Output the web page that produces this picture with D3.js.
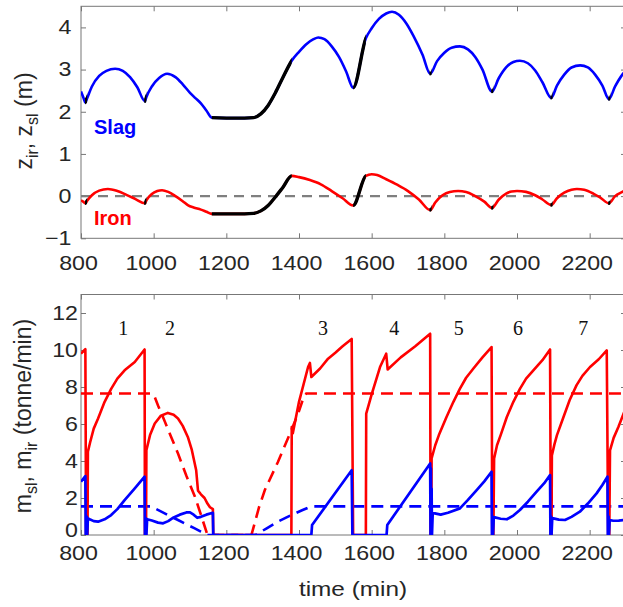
<!DOCTYPE html>
<html><head><meta charset="utf-8">
<script src="https://cdn.jsdelivr.net/npm/d3@7"></script>
<style>body{margin:0;background:#fff;} svg{display:block;}</style>
</head><body><svg id="c" width="623" height="607"></svg>
<script>
// ---------- data ----------
const xTicks = [800, 1000, 1200, 1400, 1600, 1800, 2000, 2200];
const zTicks = [-1, 0, 1, 2, 3, 4];
const mTicks = [0, 2, 4, 6, 8, 10, 12];

// top panel: melt levels (m)
const slagLevel = [[800,2.48],[806,2.35],[812,2.22],[816,2.3],[830,2.6],[850,2.85],[870,2.97],[894,3.02],[915,2.97],[935,2.82],[955,2.58],[976,2.25],[980,2.35],[995,2.6],[1015,2.8],[1037,2.9],[1060,2.82],[1080,2.65],[1100,2.45],[1114,2.33],[1130,2.2],[1145,2.03],[1160,1.86],[1200,1.85],[1250,1.85],[1275,1.86],[1295,1.95],[1315,2.15],[1335,2.45],[1355,2.8],[1380,3.21],[1400,3.42],[1420,3.6],[1440,3.72],[1453,3.76],[1470,3.72],[1490,3.55],[1510,3.3],[1530,2.95],[1549,2.57],[1584,3.74],[1600,3.98],[1620,4.2],[1640,4.33],[1656,4.37],[1675,4.3],[1695,4.1],[1715,3.8],[1740,3.35],[1761,2.9],[1780,3.2],[1800,3.4],[1820,3.52],[1843,3.55],[1865,3.48],[1885,3.3],[1905,3.0],[1931,2.48],[1950,2.8],[1970,3.05],[1990,3.18],[2008,3.21],[2030,3.15],[2050,2.98],[2070,2.7],[2094,2.33],[2110,2.62],[2130,2.88],[2150,3.05],[2174,3.1],[2195,3.05],[2215,2.88],[2235,2.62],[2253,2.3],[2270,2.6],[2290,2.88],[2300,2.98]];
const ironLevel = [[800,-0.1],[806,-0.13],[812,-0.17],[816,-0.12],[830,0.02],[850,0.13],[874,0.17],[900,0.12],[925,0.03],[950,-0.07],[976,-0.17],[980,-0.1],[995,0.05],[1010,0.12],[1023,0.14],[1040,0.1],[1060,0.0],[1080,-0.12],[1095,-0.22],[1110,-0.27],[1130,-0.32],[1145,-0.37],[1160,-0.42],[1200,-0.42],[1250,-0.42],[1275,-0.41],[1295,-0.35],[1315,-0.22],[1335,-0.02],[1355,0.2],[1380,0.48],[1400,0.45],[1430,0.38],[1460,0.28],[1490,0.12],[1520,-0.05],[1549,-0.22],[1584,0.48],[1600,0.52],[1615,0.5],[1640,0.4],[1670,0.27],[1700,0.12],[1730,-0.08],[1761,-0.33],[1775,-0.15],[1795,0.02],[1815,0.1],[1838,0.12],[1860,0.1],[1885,0.0],[1910,-0.13],[1931,-0.28],[1950,-0.08],[1970,0.06],[1985,0.11],[2000,0.12],[2025,0.1],[2050,0.02],[2070,-0.08],[2094,-0.21],[2110,-0.05],[2130,0.08],[2150,0.15],[2165,0.17],[2185,0.15],[2210,0.06],[2230,-0.04],[2253,-0.17],[2270,0.0],[2290,0.1],[2300,0.15]];
// periods drawn in black (tap hole closed)
const blackIntervals = [[811,817],[974,980],[1160,1380],[1549,1584],[1759,1765],[1929,1935],[2092,2098],[2251,2257]];

// bottom panel: tapping rates (tonne/min)
const ironFlow = [[800,9.8],[812,10.05],[814,0],[818,0],[819,4.5],[825,5.0],[835,5.75],[847,6.3],[865,7.2],[883,7.9],[900,8.45],[920,8.9],[948,9.35],[975,10.03],[976,0],[979,0],[980,4.58],[990,5.4],[1003,6.03],[1020,6.45],[1039,6.6],[1055,6.5],[1067,6.3],[1080,5.9],[1094,5.3],[1105,4.6],[1117,3.5],[1122,2.4],[1130,2.2],[1140,2.0],[1148,1.7],[1155,1.5],[1163,1.4],[1164,0],[1379,0],[1380,5.84],[1383,5.5],[1400,7.2],[1425,9.08],[1430,9.3],[1434,8.54],[1458,9.0],[1480,9.53],[1500,9.85],[1520,10.2],[1545,10.6],[1549,0],[1584,0],[1585,6.56],[1600,7.6],[1623,9.08],[1640,9.8],[1644,8.95],[1680,9.6],[1720,10.2],[1761,10.88],[1762,0],[1764,0],[1765,4.14],[1775,4.85],[1785,5.4],[1806,6.38],[1825,7.2],[1843,7.91],[1860,8.5],[1880,9.0],[1905,9.6],[1930,10.16],[1932,0],[1935,0],[1937,4.14],[1945,4.85],[1955,5.4],[1972,6.38],[1990,7.2],[2008,7.9],[2025,8.45],[2045,8.9],[2070,9.45],[2091,10.03],[2093,0],[2095,0],[2096,4.3],[2103,4.9],[2110,5.4],[2128,6.38],[2145,7.3],[2164,8.1],[2180,8.6],[2201,9.08],[2225,9.5],[2247,9.98],[2251,0],[2254,0],[2256,4.58],[2266,5.25],[2279,5.84],[2300,6.9]];
const slagFlow = [[800,2.88],[812,3.18],[813,0],[815,0],[816,1.0],[817,0],[819,0.9],[824,0.85],[835,0.75],[847,0.72],[865,0.85],[883,1.08],[900,1.4],[920,1.89],[948,2.52],[975,3.15],[976,0],[978,0],[979,0.9],[980,0],[982,0.85],[995,0.78],[1012,0.67],[1026,0.63],[1040,0.75],[1055,0.95],[1072,1.1],[1090,1.22],[1100,1.22],[1110,1.1],[1120,0.93],[1130,0.98],[1145,1.1],[1163,1.2],[1164,0],[1434,0],[1436,0.54],[1545,3.5],[1547,0],[1641,0],[1643,0.54],[1761,3.87],[1762,0],[1763,3.6],[1764,0],[1765,2.5],[1766,0],[1768,1.17],[1774,1.17],[1790,1.1],[1810,1.2],[1843,1.44],[1865,1.9],[1889,2.43],[1910,2.9],[1930,3.42],[1931,0],[1933,1.0],[1934,0],[1936,0.95],[1939,0.95],[1955,0.88],[1972,0.85],[1990,1.05],[2008,1.35],[2030,1.8],[2054,2.34],[2075,2.8],[2091,3.24],[2092,0],[2094,1.0],[2095,0],[2097,0.9],[2100,0.9],[2115,0.83],[2132,0.81],[2150,0.98],[2173,1.26],[2195,1.7],[2219,2.25],[2235,2.7],[2249,3.15],[2250,0],[2252,1.0],[2253,0],[2255,0.8],[2265,0.77],[2280,0.78],[2300,0.82]];
const ironTarget = [[800,7.65],[995,7.65],[1003,7.45],[1012,7.0],[1025,6.4],[1045,5.45],[1067,4.4],[1090,3.2],[1113,2.1],[1130,1.1],[1148,0],[1269,0],[1290,1.5],[1306,2.43],[1342,3.95],[1379,5.66],[1400,6.7],[1412,7.4],[1420,7.65],[2300,7.65]];
const slagTarget = [[800,1.55],[990,1.55],[1005,1.42],[1021,1.26],[1045,1.02],[1067,0.81],[1090,0.58],[1113,0.36],[1130,0.18],[1148,0],[1280,0],[1310,0.35],[1342,0.72],[1379,1.08],[1410,1.35],[1428,1.5],[1440,1.55],[2300,1.55]];

const cycleLabels = ["1","2","3","4","5","6","7"];
const cycleTimes = [916, 1045, 1466, 1662, 1840, 2003, 2182];
const cycleLevel = 11.2;

// ---------- drawing ----------
const svg = d3.select("#c");
svg.append("rect").attr("width",623).attr("height",607).attr("fill","#fff");
const SX = 1.16; // horizontal stretch of glyphs
const FONT = "'Liberation Sans', Arial, sans-serif";
const x = d3.scaleLinear().domain([800, 2300]).range([81, 626]);
const yTop = d3.scaleLinear().domain([-1, 4.5]).range([238.3, 6.3]);
const yBot = d3.scaleLinear().domain([0, 13]).range([535, 294.5]);
const fmt = d3.format("d");
const defs = svg.append("defs");

function panel(id, y, yTickVals, xPad, yPad) {
  const g = svg.append("g");
  const [y0, y1] = y.range();
  defs.append("clipPath").attr("id", id + "clip").append("rect")
    .attr("x", x.range()[0]).attr("y", y1).attr("width", x.range()[1] - x.range()[0]).attr("height", y0 - y1);
  const axX = g.append("g").attr("transform", `translate(0,${y0})`)
    .call(d3.axisBottom(x).tickValues(xTicks).tickFormat(fmt).tickSize(-5).tickSizeOuter(0).tickPadding(xPad));
  g.append("g").attr("transform", `translate(0,${y1})`)
    .call(d3.axisTop(x).tickValues(xTicks).tickSize(-5).tickSizeOuter(0).tickFormat(""));
  const axY = g.append("g").attr("transform", `translate(${x.range()[0]},0)`)
    .call(d3.axisLeft(y).tickValues(yTickVals).tickFormat(fmt).tickSize(-5).tickSizeOuter(0).tickPadding(0));
  g.append("g").attr("transform", `translate(${x.range()[1]},0)`)
    .call(d3.axisRight(y).tickValues(yTickVals).tickSize(-5).tickSizeOuter(0).tickFormat(""));
  g.selectAll(".domain").remove();
  g.selectAll(".tick line").attr("stroke", "#777").attr("stroke-width", 1);
  g.selectAll(".tick text").attr("font-family", FONT).attr("font-size", 20).attr("fill", "#262626");
  axX.selectAll(".tick text").attr("transform", `scale(${SX},1)`).attr("x", -3 / SX);
  axY.selectAll(".tick text").attr("transform", `scale(${SX},1)`).attr("x", -yPad / SX);
  g.append("rect").attr("x", x.range()[0]).attr("y", y1)
    .attr("width", x.range()[1] - x.range()[0]).attr("height", y0 - y1)
    .attr("fill", "none").attr("stroke", "#777").attr("stroke-width", 1);
  return { plot: svg.append("g").attr("clip-path", `url(#${id}clip)`), axY };
}

const topP = panel("top", yTop, zTicks, 17.5, 9.5);
const botP = panel("bot", yBot, mTicks, 10.5, 3);
const topPlot = topP.plot, botPlot = botP.plot;
// lift the bottom "0" label a little so it clears the "800" below it
botP.axY.selectAll(".tick text").filter(d => d === 0).attr("dy", "0.08em");

const lineTop = d3.line().x(d => x(d[0])).y(d => yTop(d[1])).curve(d3.curveMonotoneX);
const lineBot = d3.line().x(d => x(d[0])).y(d => yBot(d[1])).curve(d3.curveLinear);

// zero reference
topPlot.append("path").attr("d", lineTop([[800,0],[2300,0]]))
  .attr("fill","none").attr("stroke","#7f7f7f").attr("stroke-width",2.2).attr("stroke-dasharray","10,7");

// black interval clip
const bc = defs.append("clipPath").attr("id","blackclip");
blackIntervals.forEach(iv => {
  bc.append("rect").attr("x", x(iv[0])).attr("y", 0).attr("width", x(iv[1]) - x(iv[0])).attr("height", 250);
});

[[slagLevel,"#0000ff"],[ironLevel,"#ff0000"]].forEach(([data,col]) => {
  topPlot.append("path").attr("d", lineTop(data)).attr("fill","none").attr("stroke",col).attr("stroke-width",2.6);
  topPlot.append("g").attr("clip-path","url(#blackclip)")
    .append("path").attr("d", lineTop(data)).attr("fill","none").attr("stroke","#000").attr("stroke-width",3.4);
});

topPlot.append("text").attr("x",94).attr("y",134).text("Slag")
  .attr("font-family",FONT).attr("font-weight","bold").attr("font-size",20).attr("fill","#0000ff");
topPlot.append("text").attr("x",94).attr("y",225).text("Iron")
  .attr("font-family",FONT).attr("font-weight","bold").attr("font-size",20).attr("fill","#ff0000");

// bottom
botPlot.append("path").attr("d", lineBot(ironTarget)).attr("fill","none").attr("stroke","#ff0000").attr("stroke-width",2.6).attr("stroke-dasharray","12,7");
botPlot.append("path").attr("d", lineBot(slagTarget)).attr("fill","none").attr("stroke","#0000ff").attr("stroke-width",2.6).attr("stroke-dasharray","12,7");
botPlot.append("path").attr("d", lineBot(ironFlow)).attr("fill","none").attr("stroke","#ff0000").attr("stroke-width",2.6).attr("stroke-linejoin","round");
botPlot.append("path").attr("d", lineBot(slagFlow)).attr("fill","none").attr("stroke","#0000ff").attr("stroke-width",2.7).attr("stroke-linejoin","round");

botPlot.selectAll("text.cyc").data(cycleLabels).join("text").attr("class","cyc")
  .attr("x",(d,i)=>x(cycleTimes[i])).attr("y",yBot(cycleLevel)).attr("dy","0.35em")
  .attr("text-anchor","middle").attr("font-family","'Liberation Serif', 'Times New Roman', serif")
  .attr("font-size",20).attr("fill","#111").text(d=>d);

// axis titles
const t1 = svg.append("text").attr("transform","translate(32,121) rotate(-90)").attr("text-anchor","middle")
  .attr("font-family",FONT).attr("font-size",23).attr("fill","#262626");
t1.append("tspan").text("z");
t1.append("tspan").attr("dy",6).attr("font-size",16).text("ir");
t1.append("tspan").attr("dy",-6).text(", z");
t1.append("tspan").attr("dy",6).attr("font-size",16).text("sl");
t1.append("tspan").attr("dy",-6).text(" (m)");

const t2 = svg.append("text").attr("transform","translate(31,416) rotate(-90)").attr("text-anchor","middle")
  .attr("font-family",FONT).attr("font-size",23).attr("fill","#262626");
t2.append("tspan").text("m");
t2.append("tspan").attr("dy",6).attr("font-size",16).text("sl");
t2.append("tspan").attr("dy",-6).text(", m");
t2.append("tspan").attr("dy",6).attr("font-size",16).text("ir");
t2.append("tspan").attr("dy",-6).text(" (tonne/min)");

svg.append("text").attr("transform",`translate(353,596) scale(${SX},1)`).attr("text-anchor","middle")
  .attr("font-family",FONT).attr("font-size",21).attr("fill","#262626").text("time (min)");
</script></body></html>
